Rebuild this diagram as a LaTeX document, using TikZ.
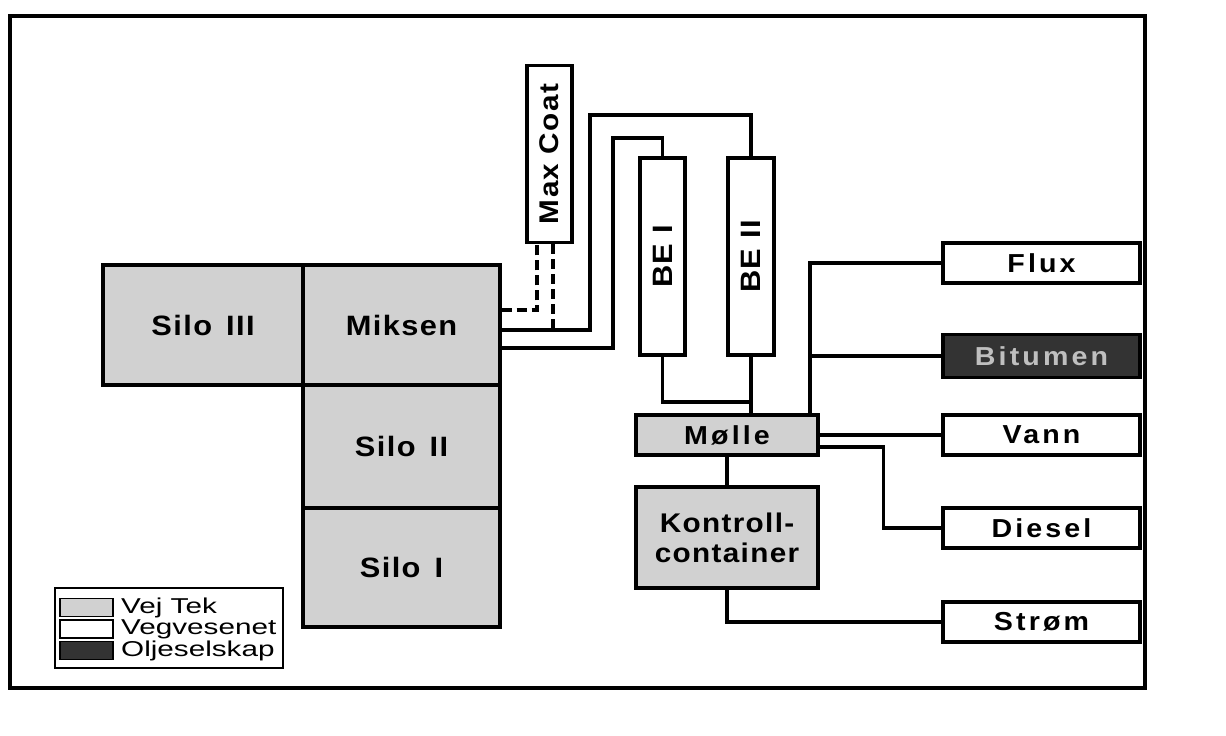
\documentclass[tikz,border=0pt]{standalone}
\usepackage{fontspec}
\usepackage{graphicx}
\setmainfont{Liberation Sans}
\newfontfamily\lab{Liberation Sans}[FakeStretch=1.1,LetterSpace=5]
\newfontfamily\labw{Liberation Sans}[FakeStretch=1.1,LetterSpace=12]
\newfontfamily\leg{Liberation Sans}[FakeStretch=1.38]
\definecolor{vejtek}{gray}{0.82}
\definecolor{olje}{gray}{0.2}
\begin{document}
\begin{tikzpicture}[x=1pt,y=-1pt,
  box/.style={draw, line width=3.2pt, inner sep=0pt, align=center,
    font=\labw\bfseries\fontsize{26}{28}\selectfont},
  vt/.style={box, fill=vejtek},
  vv/.style={box, fill=white},
  oj/.style={box, fill=olje, text=black!25},
  big/.style={font=\lab\bfseries\fontsize{28}{30}\selectfont},
  rot/.style={font=\lab\bfseries\fontsize{27}{29}\selectfont},
  conn/.style={line width=3.2pt},
  dconn/.style={conn, dash pattern=on 10pt off 5pt},
  legtext/.style={anchor=west, inner sep=0pt, font=\leg\fontsize{21.5}{23}\selectfont},
  swatch/.style={draw, line width=1.8pt, minimum width=53pt, minimum height=18pt, inner sep=0pt}
]
\useasboundingbox (0,0) rectangle (1226,736);
\draw[line width=4pt] (9.5,15.5) rectangle (1145,688);

% Vej Tek blocks
\node[vt, big, minimum width=200pt, minimum height=120pt] (silo3) at (203,325) {Silo\hspace{14pt}III};
\node[vt, big, minimum width=197pt, minimum height=120pt] (miksen) at (401.5,325) {Miksen};
\node[vt, big, minimum width=197pt, minimum height=123pt] (silo2) at (401.5,446.5) {Silo\hspace{14pt}II};
\node[vt, big, minimum width=197pt, minimum height=119pt] (silo1) at (401.5,567.5) {Silo\hspace{14pt}I};

% Vertical tanks
\node[vv, rot, minimum width=45pt, minimum height=177pt] (maxcoat) at (549.5,154) {\rotatebox{90}{Max Coat}};
\node[vv, big, minimum width=45pt, minimum height=197pt] (be1) at (662.5,256.5) {\rotatebox{90}{BE I}};
\node[vv, big, minimum width=46pt, minimum height=197pt] (be2) at (751,256.5) {\rotatebox{90}{BE II}};

% Right column
\node[vv, minimum width=197pt, minimum height=40pt] (flux) at (1041.5,263) {Flux};
\node[oj, minimum width=197pt, minimum height=43pt] (bitumen) at (1041.5,356) {Bitumen};
\node[vv, minimum width=197pt, minimum height=40pt] (vann) at (1041.5,435) {Vann};
\node[vv, minimum width=197pt, minimum height=40pt] (diesel) at (1041.5,528) {Diesel};
\node[vv, minimum width=197pt, minimum height=40pt] (strom) at (1041.5,622) {Strøm};

% Centre
\node[vt, minimum width=182pt, minimum height=40pt] (molle) at (727,435) {Mølle};
\node[vt, minimum width=182pt, minimum height=101pt, font=\lab\bfseries\fontsize{27}{30}\selectfont] (kontroll) at (727,537.5) {Kontroll-\\container};

% Connectors
\coordinate (m1) at ([yshift=15pt]miksen.east);
\coordinate (m2) at ([yshift=-5pt]miksen.east);
\coordinate (m3) at ([yshift=-23pt]miksen.east);
\draw[dconn] (m1) -| ([xshift=-12.5pt]maxcoat.south);
\draw[dconn] ([xshift=3.5pt]maxcoat.south) -- ([xshift=3.5pt]maxcoat.south |- m2);
\draw[conn] (m2) -| (590,115) -| (be2.north);
\draw[conn] (m3) -| (613,138) -| (be1.north);
\draw[conn] (be1.south) |- (be2.south |- 0,402);
\draw[conn] (be2.south) -- (be2.south |- molle.north);
\coordinate (tap) at ([xshift=83pt]molle.north);
\draw[conn] (tap) |- (flux.west);
\draw[conn] (tap |- bitumen.west) -- (bitumen.west);
\draw[conn] (molle.east) -- (vann.west);
\draw[conn] ([yshift=-12pt]molle.east) -| ([xshift=-58pt]diesel.west) -- (diesel.west);
\draw[conn] (molle.south) -- (kontroll.north);
\draw[conn] (kontroll.south) |- (strom.west);

% Legend
\node[draw, line width=2.8pt, minimum width=228pt, minimum height=80pt, inner sep=0pt] (legend) at (169,628) {};
\node[swatch, fill=vejtek] (sw1) at (86.5,607.5) {};
\node[swatch, fill=white] (sw2) at (86.5,629) {};
\node[swatch, fill=olje] (sw3) at (86.5,650.5) {};
\node[legtext] (l1) at (121,607.5) {Vej Tek};
\node[legtext] (l2) at (121,629) {Vegvesenet};
\node[legtext] (l3) at (121,650.5) {Oljeselskap};
\end{tikzpicture}
\end{document}
